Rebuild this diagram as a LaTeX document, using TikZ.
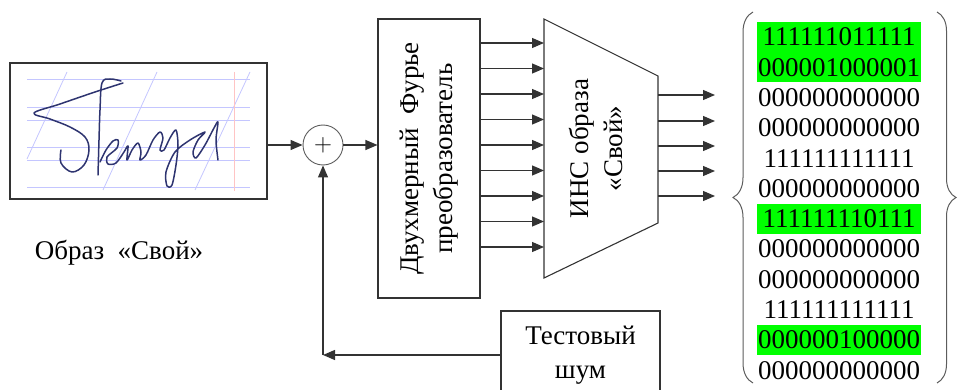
\documentclass[tikz,border=0pt]{standalone}
\usepackage{fontspec}
\setmainfont{Liberation Serif}
\usepackage{graphicx}
\usetikzlibrary{arrows.meta,positioning,decorations.pathreplacing}
\definecolor{HitGreen}{HTML}{00FF00}
\definecolor{InkNavy}{HTML}{2E3470}
\definecolor{RuleBlue}{HTML}{C4C6FF}
\definecolor{RuleRed}{HTML}{FFC4C4}
\definecolor{LineDark}{HTML}{333333}
\tikzset{
  blockbox/.style={draw=LineDark,line width=1.1pt,inner sep=0pt,align=center},
  sigarrow/.style={-{Triangle[length=12pt,width=10pt]},line width=1.2pt,draw=LineDark},
  sumnode/.style={circle,draw=LineDark!80,line width=0.9pt,minimum size=40pt,inner sep=0pt},
  bitrow/.style={inner sep=0pt,minimum width=164pt,minimum height=30.3pt},
  bracedraw/.style={decorate,line width=1pt,draw=LineDark!80},
  paperrule/.style={line width=0.8pt,draw=RuleBlue},
  inkstroke/.style={line width=1.5pt,draw=InkNavy,line cap=round,line join=round}
}

\begin{document}
\begin{tikzpicture}[x=1pt,y=-1pt,font=\fontsize{27}{34}\selectfont]
\useasboundingbox (0,0) rectangle (957,390);

% signature image
\node[blockbox,minimum width=257pt,minimum height=136pt] (sig) at (138.5,131) {};
\foreach \y in {79,107,120,147,160,187}
  \draw[paperrule] (27,\y) -- (250,\y);
\draw[paperrule] (67,72) -- (27,159);
\draw[paperrule] (157,72) -- (103,190);
\draw[paperrule] (250,72) -- (195,190);
\draw[line width=0.9pt,draw=RuleRed] (234,72) -- (234,191);
\draw[inkstroke] plot[smooth,tension=0.6] coordinates {(123,83) (95,92) (60,104) (34,113) (50,119) (70,127) (85,137) (89,150) (84,165) (72,172) (61,163) (61,150)};
\draw[inkstroke] plot[smooth,tension=0.6] coordinates {(121,81) (110,79) (102,83) (100,110) (99,140) (98,175)};
\draw[inkstroke] plot[smooth,tension=0.5] coordinates {(100,162) (106,150) (113,141) (118,140) (117,148) (107,157) (108,164) (116,163) (124,152) (128,146) (127,160) (132,150) (138,143) (141,152) (140,160) (146,155) (153,140) (160,132) (163,138) (160,150) (164,150) (170,138) (176,130) (178,145) (176,165) (172,185) (167,186) (166,172) (175,152) (190,140) (205,132) (198,140) (193,152) (196,158) (205,145) (214,128) (218,122) (216,140) (218,160)};
\node (siglabel) at (119,253) {Образ~~«Свой»};

% adder and transform
\node[sumnode] (sum) at (323,145) {$+$};
\node[blockbox,minimum width=102pt,minimum height=279pt] (fourier) at (429,158.5)
  {\rotatebox{90}{\begin{tabular}{@{}c@{}}Двухмерный~~Фурье\\преобразователь\end{tabular}}};
\draw[sigarrow] (sig.east |- sum.west) -- (sum.west);
\draw[sigarrow] (sum.east) -- (sum.east -| fourier.west);

% network
\coordinate (annNW) at (544,19);
\coordinate (annNE) at (658,76);
\coordinate (annSE) at (658,223);
\coordinate (annSW) at (544,278);
\draw[line width=1.1pt,draw=LineDark] (annNW) -- (annNE) -- (annSE) -- (annSW) -- cycle;
\node[rotate=90,align=center] (ann) at (596,148.5) {ИНС образа\\«Свой»};
\foreach \k in {0,...,8} {
  \coordinate (lv\k) at (0,{43+25.5*\k});
  \draw[sigarrow] (fourier.east |- lv\k) -- (annNW |- lv\k);
}
\foreach \y [count=\k] in {95,121,146,171,196} {
  \coordinate (out\k) at (715,\y);
  \draw[sigarrow] (annNE |- out\k) -- (out\k);
}

% output codes
\foreach \bits/\shade [count=\i] in {111111011111/HitGreen,000001000001/HitGreen,
    000000000000/white,000000000000/white,111111111111/white,000000000000/white,
    111111110111/HitGreen,000000000000/white,000000000000/white,111111111111/white,
    000000100000/HitGreen,000000000000/white}
  \node[bitrow,fill=\shade] (bit\i) at (839,{37+30.3*(\i-1)}) {\bits};
\draw[bracedraw,decoration={brace,amplitude=20pt}] (753,383) -- (753,12);
\draw[bracedraw,decoration={brace,amplitude=19pt}] (937,12) -- (937,383);

% test noise
\node[blockbox,minimum width=159pt,minimum height=88pt] (noise) at (580.5,355)
  {Тестовый\\шум};
\coordinate (fbk) at (sum.south |- noise.west);
\draw[sigarrow] (noise.west) -- (fbk);
\draw[sigarrow] (fbk) -- (sum.south);
\end{tikzpicture}
\end{document}
